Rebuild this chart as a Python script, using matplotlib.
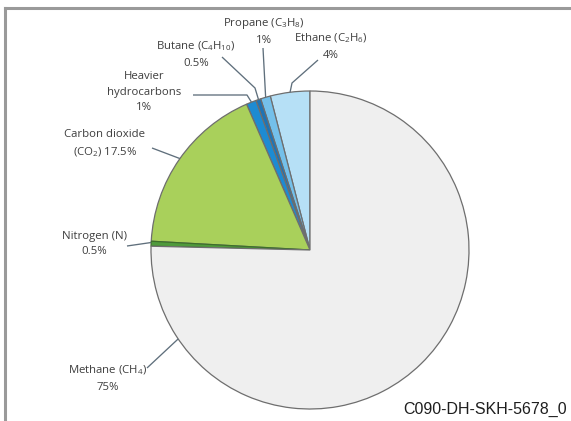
import numpy as np
import matplotlib
matplotlib.use("Agg")
import matplotlib.pyplot as plt

# Natural gas composition (percent), counter-clockwise from 12 o'clock
components = ["Ethane", "Propane", "Butane", "Heavier hydrocarbons",
              "Carbon dioxide", "Nitrogen", "Methane"]
shares = [4.0, 1.0, 0.5, 1.0, 17.5, 0.5, 75.0]
labels = [
    "Ethane (C$_2$H$_6$)\n4%",
    "Propane (C$_3$H$_8$)\n1%",
    "Butane (C$_4$H$_{10}$)\n0.5%",
    "Heavier\nhydrocarbons\n1%",
    "Carbon dioxide\n(CO$_2$) 17.5%",
    "Nitrogen (N)\n0.5%",
    "Methane (CH$_4$)\n75%",
]
colors = ["#b6e0f6", "#74c0ea", "#1f74b4", "#1d8bd2",
          "#a9d05b", "#4f9a3c", "#efefef"]
figure_id = "C090-DH-SKH-5678_0"

W, H = 571, 421
plt.rcParams["mathtext.default"] = "regular"

fig = plt.figure(figsize=(W / 100, H / 100), dpi=100)
ax = fig.add_axes([0, 0, 1, 1])


def px(x, y):
    """Canvas position measured from the top-left corner."""
    return (x, H - y)


cx, cy = px(310, 250)
R = 159

wedges, _ = ax.pie(shares, colors=colors, startangle=90, counterclock=True,
                   center=(cx, cy), radius=R,
                   wedgeprops=dict(edgecolor="#6e6e6e", linewidth=0.9))
wedges[5].set_edgecolor("#3d6f2a")
ax.set_xlim(0, W)
ax.set_ylim(0, H)
ax.set_aspect("equal")
ax.axis("off")

# wedge mid angles (degrees); methane's leader sits lower-left
cum = np.cumsum([0] + shares)
mid = 90 + 3.6 * (cum[:-1] + cum[1:]) / 2
anchor_angles = list(mid[:-1]) + [214.0]

# label centres and leader bend points (top-left measured)
label_pos = [(331, 46), (264, 31), (196, 54), (144, 92),
             (105, 144), (94, 244), (108, 378)]
leader_start = [(318, 60), (263, 48), (222, 57), (193, 95),
                (152, 148), (127, 246), (147, 368)]
leader_bend = [(292, 83), None, (255, 88), (247, 95), None, None, None]

text_color = "#3e3e3e"
for i, lab in enumerate(labels):
    ax.text(*px(*label_pos[i]), lab, ha="center", va="center",
            fontsize=8.2, color=text_color, family="Open Sans",
            linespacing=1.58)
    a = np.deg2rad(anchor_angles[i])
    edge = (cx + R * np.cos(a), cy + R * np.sin(a))
    pts = [px(*leader_start[i])]
    if leader_bend[i] is not None:
        pts.append(px(*leader_bend[i]))
    pts.append(edge)
    xs, ys = zip(*pts)
    ax.plot(xs, ys, color="#5f6f7c", lw=0.95, solid_capstyle="butt")

# frame lines along the top and left
ax.plot([5, W], [H - 8, H - 8], color="#9a9a9a", lw=2.2)
ax.plot([5, 5], [H - 8, 0], color="#9a9a9a", lw=2.2)

ax.text(*px(485, 409), figure_id, ha="center", va="center",
        fontsize=11.5, color="#1e1e1e", family="Liberation Sans")

fig.savefig("out.png", dpi=100)
